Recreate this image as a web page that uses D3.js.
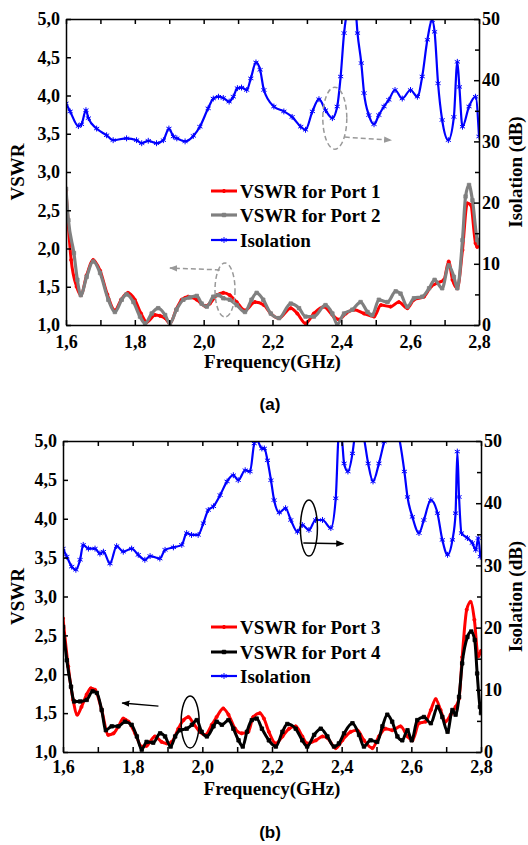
<!DOCTYPE html>
<html>
<head>
<meta charset="utf-8">
<script src="https://cdn.jsdelivr.net/npm/d3@7"></script>
<style>
  body { margin: 0; background: #fff; }
</style>
</head>
<body>
<script>
// ---- data: [frequency GHz, value] ----
const freqTicks = [1.6, 1.7, 1.8, 1.9, 2.0, 2.1, 2.2, 2.3, 2.4, 2.5, 2.6, 2.7, 2.8];
const vswrTicks = [1.0, 1.5, 2.0, 2.5, 3.0, 3.5, 4.0, 4.5, 5.0];
const isoTicks = [0, 5, 10, 15, 20, 25, 30, 35, 40, 45, 50];

// panel (a)
const vswrPort1 = [[1.600,2.76],[1.615,1.85],[1.631,1.50],[1.643,1.39],[1.660,1.65],[1.679,1.85],[1.699,1.71],[1.720,1.40],[1.742,1.19],[1.760,1.33],[1.780,1.42],[1.800,1.33],[1.818,1.15],[1.835,1.04],[1.859,1.13],[1.873,1.12],[1.888,1.09],[1.902,1.02],[1.920,1.20],[1.936,1.33],[1.955,1.37],[1.980,1.33],[2.004,1.25],[2.018,1.28],[2.038,1.39],[2.057,1.42],[2.076,1.39],[2.096,1.30],[2.120,1.19],[2.149,1.30],[2.175,1.26],[2.195,1.15],[2.219,1.09],[2.253,1.22],[2.272,1.15],[2.296,1.02],[2.320,1.15],[2.349,1.24],[2.378,1.11],[2.393,1.07],[2.413,1.15],[2.437,1.20],[2.466,1.15],[2.495,1.11],[2.515,1.26],[2.543,1.24],[2.567,1.30],[2.592,1.22],[2.611,1.33],[2.640,1.37],[2.660,1.50],[2.679,1.55],[2.698,1.59],[2.712,1.83],[2.723,1.59],[2.737,1.48],[2.752,1.98],[2.766,2.59],[2.776,2.57],[2.790,2.07],[2.795,2.02],[2.800,2.10]];
const vswrPort2 = [[1.600,2.78],[1.607,2.37],[1.623,1.94],[1.633,1.59],[1.643,1.39],[1.660,1.63],[1.679,1.83],[1.699,1.68],[1.723,1.33],[1.742,1.17],[1.762,1.33],[1.776,1.40],[1.796,1.30],[1.815,1.11],[1.830,1.02],[1.849,1.15],[1.868,1.22],[1.888,1.13],[1.902,1.02],[1.921,1.20],[1.941,1.33],[1.960,1.36],[1.980,1.38],[1.994,1.28],[2.009,1.24],[2.028,1.37],[2.043,1.39],[2.057,1.35],[2.076,1.33],[2.096,1.26],[2.120,1.17],[2.139,1.33],[2.154,1.42],[2.173,1.33],[2.195,1.15],[2.219,1.09],[2.253,1.28],[2.277,1.22],[2.296,1.11],[2.320,1.11],[2.354,1.26],[2.374,1.15],[2.388,1.01],[2.408,1.15],[2.432,1.20],[2.456,1.30],[2.476,1.17],[2.490,1.13],[2.509,1.33],[2.534,1.30],[2.558,1.44],[2.572,1.41],[2.592,1.24],[2.611,1.35],[2.635,1.37],[2.655,1.48],[2.671,1.59],[2.693,1.48],[2.712,1.78],[2.727,1.63],[2.737,1.48],[2.752,2.11],[2.761,2.68],[2.771,2.83],[2.781,2.63],[2.795,2.11],[2.800,2.07]];
const isoA = [[1.600,36.2],[1.612,34.9],[1.636,32.5],[1.645,32.8],[1.658,35.1],[1.665,33.8],[1.689,32.1],[1.718,31.0],[1.737,30.2],[1.776,30.5],[1.805,30.2],[1.820,29.7],[1.839,30.1],[1.863,29.7],[1.883,30.2],[1.899,32.1],[1.912,30.8],[1.922,30.5],[1.946,30.0],[1.970,30.9],[1.989,32.4],[2.013,35.4],[2.028,37.0],[2.043,37.3],[2.057,37.1],[2.074,36.5],[2.086,37.3],[2.098,38.7],[2.110,38.8],[2.125,38.4],[2.137,40.3],[2.152,42.9],[2.164,41.7],[2.175,38.4],[2.204,35.7],[2.233,34.9],[2.257,34.0],[2.282,32.4],[2.296,31.9],[2.316,34.9],[2.335,36.9],[2.354,35.1],[2.374,33.8],[2.388,35.7],[2.398,40.6],[2.408,47.7],[2.416,51.0],[2.428,53.0],[2.442,51.0],[2.447,47.7],[2.458,42.8],[2.466,37.9],[2.480,34.3],[2.495,32.8],[2.509,34.3],[2.524,35.7],[2.538,36.8],[2.556,38.4],[2.577,37.0],[2.601,38.4],[2.621,37.3],[2.635,40.6],[2.650,46.6],[2.664,49.8],[2.671,47.9],[2.681,39.5],[2.693,33.5],[2.711,30.2],[2.727,34.0],[2.737,43.0],[2.743,38.9],[2.752,32.4],[2.771,35.7],[2.790,37.3],[2.800,30.8]];

// panel (b)
const vswrPort3 = [[1.600,2.72],[1.615,2.10],[1.629,1.67],[1.641,1.48],[1.653,1.58],[1.668,1.74],[1.680,1.82],[1.692,1.80],[1.711,1.54],[1.730,1.22],[1.745,1.24],[1.759,1.33],[1.773,1.43],[1.788,1.39],[1.807,1.24],[1.826,1.07],[1.840,1.08],[1.864,1.20],[1.883,1.13],[1.898,1.11],[1.912,1.13],[1.931,1.30],[1.946,1.41],[1.960,1.45],[1.974,1.37],[1.993,1.26],[2.008,1.22],[2.027,1.35],[2.041,1.45],[2.060,1.56],[2.075,1.48],[2.094,1.30],[2.113,1.24],[2.132,1.26],[2.146,1.45],[2.165,1.50],[2.177,1.43],[2.191,1.26],[2.211,1.11],[2.230,1.20],[2.249,1.30],[2.268,1.33],[2.287,1.20],[2.301,1.11],[2.326,1.15],[2.345,1.20],[2.359,1.18],[2.383,1.05],[2.402,1.15],[2.426,1.26],[2.445,1.28],[2.464,1.15],[2.488,1.05],[2.507,1.20],[2.526,1.30],[2.545,1.28],[2.569,1.33],[2.589,1.20],[2.603,1.15],[2.622,1.37],[2.641,1.39],[2.656,1.54],[2.670,1.68],[2.684,1.54],[2.698,1.39],[2.713,1.48],[2.727,1.58],[2.737,1.69],[2.746,2.22],[2.759,2.83],[2.770,2.93],[2.781,2.70],[2.792,2.23],[2.800,2.30]];
const vswrPort4 = [[1.600,2.61],[1.611,2.18],[1.623,1.84],[1.632,1.65],[1.649,1.65],[1.668,1.67],[1.685,1.78],[1.697,1.76],[1.711,1.54],[1.723,1.28],[1.740,1.33],[1.759,1.33],[1.778,1.39],[1.797,1.35],[1.812,1.20],[1.826,1.03],[1.840,1.13],[1.859,1.12],[1.879,1.24],[1.893,1.20],[1.909,1.07],[1.922,1.20],[1.936,1.28],[1.955,1.30],[1.970,1.35],[1.984,1.41],[1.998,1.26],[2.013,1.20],[2.032,1.33],[2.041,1.39],[2.056,1.35],[2.075,1.41],[2.089,1.30],[2.104,1.15],[2.116,1.07],[2.128,1.26],[2.142,1.41],[2.156,1.43],[2.171,1.30],[2.191,1.15],[2.211,1.07],[2.230,1.26],[2.244,1.36],[2.268,1.30],[2.287,1.15],[2.301,1.07],[2.321,1.22],[2.340,1.30],[2.359,1.20],[2.378,1.07],[2.392,1.11],[2.407,1.24],[2.431,1.37],[2.450,1.22],[2.464,1.07],[2.483,1.15],[2.502,1.13],[2.517,1.33],[2.531,1.48],[2.545,1.39],[2.560,1.20],[2.574,1.15],[2.589,1.28],[2.601,1.15],[2.617,1.41],[2.636,1.45],[2.656,1.37],[2.675,1.58],[2.689,1.45],[2.704,1.26],[2.718,1.54],[2.727,1.48],[2.737,1.71],[2.746,2.14],[2.761,2.48],[2.772,2.55],[2.782,2.44],[2.789,2.01],[2.797,1.58],[2.800,1.50]];
const isoB = [[1.600,32.7],[1.611,31.4],[1.625,29.8],[1.637,29.3],[1.649,30.9],[1.658,33.3],[1.673,32.7],[1.692,32.7],[1.706,31.9],[1.716,32.2],[1.735,30.3],[1.754,33.1],[1.773,32.2],[1.797,32.7],[1.816,31.7],[1.835,30.9],[1.850,31.5],[1.878,31.1],[1.893,32.5],[1.917,32.9],[1.941,33.3],[1.955,35.2],[1.969,34.9],[1.988,34.9],[2.003,36.8],[2.017,38.9],[2.032,39.5],[2.051,41.3],[2.071,43.5],[2.089,44.5],[2.103,43.7],[2.123,45.3],[2.137,45.1],[2.149,49.6],[2.156,50.2],[2.171,48.8],[2.178,48.8],[2.187,46.9],[2.197,43.7],[2.206,40.5],[2.221,38.5],[2.239,39.2],[2.254,37.3],[2.273,35.4],[2.287,36.5],[2.306,35.7],[2.325,37.3],[2.345,37.3],[2.369,36.0],[2.383,40.8],[2.392,51.0],[2.400,50.5],[2.407,46.4],[2.418,45.1],[2.431,48.0],[2.437,50.5],[2.450,54.0],[2.464,50.5],[2.476,46.4],[2.490,43.5],[2.507,46.4],[2.522,49.9],[2.540,54.0],[2.565,50.5],[2.580,45.1],[2.589,41.0],[2.603,37.8],[2.622,35.2],[2.636,37.3],[2.656,40.5],[2.675,38.4],[2.689,34.1],[2.704,31.7],[2.718,34.1],[2.727,38.4],[2.732,48.3],[2.737,41.0],[2.744,35.2],[2.761,34.4],[2.775,33.6],[2.785,32.5],[2.792,34.4],[2.798,31.4]];

// annotation marks in data units: ellipse centre, arrow start/end
const notesA = [
  {axis: "iso", cx: 2.381, cy: 33.8, rx: 12, ry: 31, from: [2.41, 30.7], to: [2.545, 30.2]},
  {axis: "vswr", cx: 2.062, cy: 1.457, rx: 10, ry: 27, from: [2.047, 1.72], to: [1.902, 1.745]}
];
const notesB = [
  {axis: "iso", cx: 2.306, cy: 36.0, rx: 8.5, ry: 28, from: [2.29, 33.6], to: [2.405, 33.5]},
  {axis: "vswr", cx: 1.965, cy: 1.386, rx: 9, ry: 26, from: [1.874, 1.59], to: [1.77, 1.63]}
];

// ---- layout ----
const W = 528, H = 845;
const serif = "'Liberation Serif', 'Times New Roman', serif";

const panels = [
  {id: "a", left: 66, right: 479, top: 19, bottom: 325, label: "(a)", labelY: 410, tickPad: 10,
   legendY: [191, 215, 240], notes: notesA, noteColor: "#999", dashed: true,
   series: [
     {name: "VSWR for Port 1", data: vswrPort1, axis: "vswr", color: "#ff0000", width: 3, sym: "circle"},
     {name: "VSWR for Port 2", data: vswrPort2, axis: "vswr", color: "#808080", width: 3.2, sym: "square"},
     {name: "Isolation", data: isoA, axis: "iso", color: "#0000ff", width: 2.2, sym: "star"}
   ]},
  {id: "b", left: 63, right: 481, top: 441, bottom: 752, label: "(b)", labelY: 838, tickPad: 8,
   legendY: [627, 652, 676], notes: notesB, noteColor: "#000", dashed: false,
   series: [
     {name: "VSWR for Port 3", data: vswrPort3, axis: "vswr", color: "#ff0000", width: 3, sym: "circle"},
     {name: "VSWR for Port 4", data: vswrPort4, axis: "vswr", color: "#000000", width: 3, sym: "square"},
     {name: "Isolation", data: isoB, axis: "iso", color: "#0000ff", width: 2.2, sym: "star"}
   ]}
];

const svg = d3.select("body").append("svg")
    .attr("width", W)
    .attr("height", H)
    .style("display", "block");

const defs = svg.append("defs");
["#999", "#000"].forEach(function(c, i) {
  defs.append("marker")
      .attr("id", "arrow" + i)
      .attr("viewBox", "0 0 10 10")
      .attr("refX", 9).attr("refY", 5)
      .attr("markerWidth", 8).attr("markerHeight", 8)
      .attr("markerUnits", "userSpaceOnUse")
      .attr("orient", "auto")
      .append("path")
      .attr("d", "M0,1 L10,5 L0,9 Z")
      .attr("fill", c);
});

const fmtComma = d => d3.format(".1f")(d).replace(".", ",");
const starType = d3.symbolAsterisk || d3.symbolCross;

function symbolPath(kind) {
  if (kind === "square") return d3.symbol(d3.symbolSquare, 12)();
  if (kind === "circle") return d3.symbol(d3.symbolCircle, 8)();
  return d3.symbol(starType, 24)();
}

function styleAxis(g) {
  g.attr("font-family", serif).attr("font-size", 18).attr("font-weight", "bold");
  g.select(".domain").attr("stroke-width", 1.5);
  g.selectAll(".tick line").attr("stroke-width", 1.5);
}

function drawPanel(p, pi) {
  const x = d3.scaleLinear().domain([1.6, 2.8]).range([p.left, p.right]);
  const yV = d3.scaleLinear().domain([1, 5]).range([p.bottom, p.top]);
  const yI = d3.scaleLinear().domain([0, 50]).range([p.bottom, p.top]);
  const yOf = a => a === "iso" ? yI : yV;

  defs.append("clipPath").attr("id", "clip-" + p.id)
      .append("rect")
      .attr("x", p.left).attr("y", p.top)
      .attr("width", p.right - p.left).attr("height", p.bottom - p.top);

  const plot = svg.append("g").attr("clip-path", "url(#clip-" + p.id + ")");

  p.series.forEach(function(s) {
    const y = yOf(s.axis);
    const line = d3.line()
        .x(d => x(d[0]))
        .y(d => y(d[1]))
        .curve(d3.curveMonotoneX);
    plot.append("path")
        .datum(s.data)
        .attr("fill", "none")
        .attr("stroke", s.color)
        .attr("stroke-width", s.width)
        .attr("stroke-linejoin", "round")
        .attr("d", line);
    plot.append("g").selectAll("path")
        .data(s.data)
        .enter().append("path")
        .attr("transform", d => "translate(" + x(d[0]) + "," + y(d[1]) + ")")
        .attr("d", symbolPath(s.sym))
        .attr("fill", s.sym === "star" ? "none" : s.color)
        .attr("stroke", s.color)
        .attr("stroke-width", s.sym === "star" ? 1 : 0.8);
  });

  // annotations: ellipse + arrow
  p.notes.forEach(function(n) {
    const y = yOf(n.axis);
    const ng = svg.append("g")
        .attr("stroke", p.noteColor)
        .attr("stroke-width", 1.5)
        .attr("fill", "none")
        .attr("stroke-dasharray", p.dashed ? "5,3" : null);
    ng.append("ellipse")
        .attr("cx", x(n.cx)).attr("cy", y(n.cy))
        .attr("rx", n.rx).attr("ry", n.ry);
    ng.append("line")
        .attr("x1", x(n.from[0])).attr("y1", y(n.from[1]))
        .attr("x2", x(n.to[0])).attr("y2", y(n.to[1]))
        .attr("marker-end", "url(#arrow" + pi + ")");
  });

  // axes: all ticks point inwards
  const minorX = d => Math.round(d * 10) % 2 === 1;
  const bottom = svg.append("g")
      .attr("transform", "translate(0," + p.bottom + ")")
      .call(d3.axisBottom(x).tickValues(freqTicks).tickSizeInner(-5).tickSizeOuter(0)
            .tickPadding(p.tickPad).tickFormat(d => minorX(d) ? "" : fmtComma(d)));
  styleAxis(bottom);

  const top = svg.append("g")
      .attr("transform", "translate(0," + p.top + ")")
      .call(d3.axisTop(x).tickValues(freqTicks).tickSizeInner(-5).tickSizeOuter(0).tickFormat(""));
  styleAxis(top);

  const left = svg.append("g")
      .attr("transform", "translate(" + p.left + ",0)")
      .call(d3.axisLeft(yV).tickValues(vswrTicks).tickSizeInner(-5).tickSizeOuter(0)
            .tickPadding(6).tickFormat(fmtComma));
  styleAxis(left);

  const right = svg.append("g")
      .attr("transform", "translate(" + p.right + ",0)")
      .call(d3.axisRight(yI).tickValues(isoTicks).tickSizeInner(-5).tickSizeOuter(0)
            .tickPadding(3).tickFormat(d => d % 10 === 0 ? d : ""));
  styleAxis(right);
  right.selectAll(".tick line").attr("x2", d => d % 10 === 0 ? -5 : -4);

  // axis titles
  const midY = (p.top + p.bottom) / 2;
  svg.append("text")
      .attr("transform", "translate(24," + midY + ") rotate(-90)")
      .attr("text-anchor", "middle")
      .attr("font-family", serif).attr("font-weight", "bold").attr("font-size", 19)
      .text("VSWR");
  svg.append("text")
      .attr("transform", "translate(522," + midY + ") rotate(-90)")
      .attr("text-anchor", "middle")
      .attr("font-family", serif).attr("font-weight", "bold").attr("font-size", 19)
      .text("Isolation (dB)");
  svg.append("text")
      .attr("x", (p.left + p.right) / 2).attr("y", p.bottom + 43)
      .attr("text-anchor", "middle")
      .attr("font-family", serif).attr("font-weight", "bold").attr("font-size", 19)
      .text("Frequency(GHz)");
  svg.append("text")
      .attr("x", 270).attr("y", p.labelY)
      .attr("text-anchor", "middle")
      .attr("font-family", "'Liberation Sans', Arial, sans-serif")
      .attr("font-weight", "bold").attr("font-size", 17)
      .text(p.label);

  // legend
  const lg = svg.append("g");
  p.series.forEach(function(s, i) {
    const ly = p.legendY[i];
    lg.append("line")
        .attr("x1", 211).attr("x2", 237).attr("y1", ly).attr("y2", ly)
        .attr("stroke", s.color).attr("stroke-width", s.width);
    lg.append("path")
        .attr("transform", "translate(224," + ly + ")")
        .attr("d", symbolPath(s.sym))
        .attr("fill", s.sym === "star" ? "none" : s.color)
        .attr("stroke", s.color).attr("stroke-width", 1);
    lg.append("text")
        .attr("x", 240).attr("y", ly).attr("dy", "0.35em")
        .attr("font-family", serif).attr("font-weight", "bold").attr("font-size", 19)
        .text(s.name);
  });
}

panels.forEach(drawPanel);
</script>
</body>
</html>
